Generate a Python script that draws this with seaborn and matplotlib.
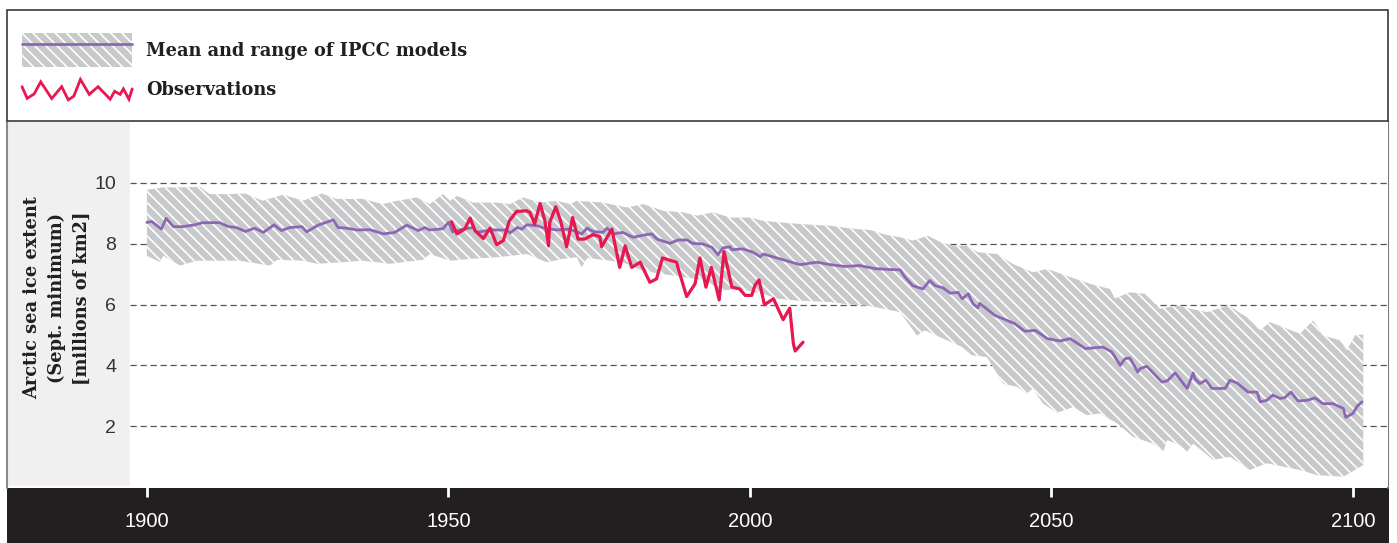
import numpy as np
import matplotlib
matplotlib.use("Agg")
import matplotlib.pyplot as plt
import matplotlib.patches as mpatches
from matplotlib.lines import Line2D
from matplotlib.legend_handler import HandlerBase, HandlerTuple, HandlerLine2D
import seaborn as sns

# ---------------- data ----------------
mean_years = [1900.0, 1900.8, 1902.4, 1903.2, 1904.4, 1906.0, 1907.7, 1909.3, 1912.1, 1913.5,
              1914.9, 1916.3, 1917.9, 1919.3, 1921.1, 1922.3, 1923.7, 1925.7, 1926.5, 1928.4,
              1930.9, 1931.7, 1933.1, 1934.8, 1937.0, 1939.2, 1941.1, 1943.1, 1945.0, 1946.1,
              1946.9, 1949.1, 1950.0, 1950.7, 1952.4, 1954.1, 1954.7, 1956.9, 1959.7, 1960.2,
              1961.4, 1962.2, 1963.0, 1964.7, 1966.0, 1968.0, 1970.1, 1972.1, 1973.0, 1974.0,
              1975.6, 1976.3, 1977.3, 1978.9, 1980.6, 1982.9, 1983.7, 1984.6, 1986.7, 1988.1,
              1989.6, 1990.5, 1992.2, 1993.7, 1994.7, 1995.5, 1996.7, 1997.0, 1998.8, 2000.5,
              2001.7, 2002.2, 2005.0, 2008.3, 2011.1, 2013.3, 2015.8, 2018.2, 2020.7, 2023.2,
              2024.9, 2025.7, 2027.0, 2028.7, 2029.8, 2030.7, 2032.0, 2033.2, 2034.5, 2035.2,
              2036.2, 2037.0, 2037.8, 2038.1, 2040.6, 2042.6, 2043.9, 2045.6, 2047.3, 2049.3,
              2051.4, 2053.1, 2055.6, 2058.5, 2060.0, 2061.4, 2062.2, 2063.0, 2064.3, 2064.7,
              2065.8, 2068.3, 2069.2, 2070.5, 2072.5, 2073.5, 2073.8, 2074.6, 2075.6, 2076.6,
              2078.8, 2079.6, 2080.8, 2082.6, 2084.1, 2084.6, 2085.7, 2086.7, 2087.9, 2088.7,
              2089.7, 2090.9, 2092.4, 2093.7, 2095.0, 2096.7, 2098.4, 2098.8, 2100.0, 2100.7,
              2101.5]
mean_extent = [8.70, 8.73, 8.48, 8.83, 8.56, 8.56, 8.61, 8.69, 8.69, 8.56,
               8.53, 8.40, 8.51, 8.37, 8.62, 8.43, 8.53, 8.56, 8.39, 8.61,
               8.78, 8.53, 8.51, 8.45, 8.46, 8.32, 8.37, 8.61, 8.43, 8.53,
               8.45, 8.49, 8.70, 8.39, 8.48, 8.53, 8.37, 8.45, 8.45, 8.35,
               8.53, 8.48, 8.62, 8.59, 8.50, 8.45, 8.48, 8.32, 8.51, 8.40,
               8.37, 8.51, 8.32, 8.37, 8.21, 8.30, 8.32, 8.15, 8.01, 8.12,
               8.12, 8.01, 7.99, 7.88, 7.64, 7.86, 7.90, 7.80, 7.83, 7.72,
               7.57, 7.66, 7.50, 7.31, 7.39, 7.31, 7.25, 7.28, 7.18, 7.15,
               7.14, 6.90, 6.62, 6.51, 6.79, 6.62, 6.55, 6.37, 6.40, 6.19,
               6.35, 6.02, 5.89, 6.04, 5.64, 5.48, 5.37, 5.12, 5.15, 4.88,
               4.80, 4.88, 4.55, 4.60, 4.44, 4.00, 4.22, 4.24, 3.78, 3.89,
               3.97, 3.45, 3.49, 3.75, 3.24, 3.75, 3.56, 3.40, 3.51, 3.24,
               3.24, 3.51, 3.42, 3.12, 3.12, 2.80, 2.85, 3.02, 2.91, 2.94,
               3.12, 2.83, 2.85, 2.93, 2.74, 2.74, 2.58, 2.29, 2.42, 2.66,
               2.80]

upper_years = [1900.0, 1902.7, 1905.5, 1908.8, 1910.4, 1913.8, 1916.3, 1919.2, 1922.6, 1925.9,
               1929.0, 1931.5, 1935.8, 1939.1, 1941.5, 1944.8, 1946.9, 1949.1, 1950.3, 1951.4,
               1954.1, 1958.0, 1960.2, 1962.4, 1965.2, 1968.0, 1970.2, 1971.3, 1975.6, 1979.6,
               1982.3, 1985.6, 1988.9, 1991.2, 1993.9, 1996.7, 2000.0, 2002.2, 2005.0, 2008.8,
               2013.3, 2016.6, 2019.9, 2022.4, 2024.9, 2027.0, 2029.5, 2032.0, 2034.3, 2036.0,
               2037.8, 2041.0, 2043.6, 2046.9, 2049.3, 2053.1, 2056.4, 2059.7, 2060.5, 2063.0,
               2065.5, 2068.0, 2070.8, 2073.0, 2075.8, 2079.3, 2082.4, 2084.6, 2086.2, 2089.1,
               2091.2, 2093.4, 2095.0, 2097.9, 2099.0, 2100.3, 2101.7]
upper_extent = [9.77, 9.85, 9.85, 9.87, 9.63, 9.63, 9.65, 9.41, 9.61, 9.41,
                9.65, 9.47, 9.47, 9.30, 9.41, 9.52, 9.30, 9.63, 9.41, 9.57,
                9.35, 9.35, 9.30, 9.52, 9.35, 9.41, 9.30, 9.41, 9.35, 9.19,
                9.30, 9.08, 9.03, 8.92, 9.03, 8.86, 8.86, 8.75, 8.70, 8.64,
                8.59, 8.50, 8.45, 8.30, 8.21, 8.10, 8.26, 8.01, 7.93, 7.93,
                7.72, 7.66, 7.33, 7.06, 7.17, 6.90, 6.68, 6.51, 6.20, 6.40,
                6.35, 5.86, 5.97, 5.86, 5.75, 5.97, 5.58, 5.15, 5.42, 5.20,
                5.04, 5.48, 4.98, 4.82, 4.49, 4.98, 5.02]

lower_years = [1900.0, 1902.2, 1902.7, 1905.5, 1908.3, 1911.6, 1915.4, 1920.4, 1921.6, 1925.9,
               1928.2, 1932.5, 1935.8, 1940.3, 1945.8, 1946.9, 1950.3, 1953.6, 1958.0, 1963.0,
               1966.3, 1969.0, 1971.3, 1972.1, 1973.0, 1976.8, 1978.9, 1982.3, 1985.6, 1988.9,
               1992.9, 1995.0, 1998.3, 2002.2, 2004.5, 2007.8, 2013.3, 2016.6, 2019.9, 2022.4,
               2024.9, 2027.7, 2029.0, 2031.5, 2035.2, 2036.8, 2039.3, 2042.0, 2044.3, 2045.9,
               2046.9, 2048.6, 2050.9, 2053.6, 2055.9, 2058.0, 2060.9, 2063.5, 2066.8, 2068.5,
               2069.2, 2071.3, 2072.5, 2073.5, 2076.8, 2079.6, 2082.9, 2085.7, 2088.4, 2091.2,
               2094.0, 2098.4, 2101.7]
lower_extent = [7.60, 7.39, 7.60, 7.28, 7.44, 7.44, 7.44, 7.28, 7.47, 7.44,
                7.34, 7.39, 7.44, 7.34, 7.47, 7.66, 7.44, 7.50, 7.55, 7.66,
                7.39, 7.50, 7.55, 7.22, 7.53, 7.44, 7.39, 7.11, 7.00, 6.90,
                6.79, 6.46, 6.51, 6.35, 6.19, 6.13, 6.08, 6.00, 5.95, 5.85,
                5.75, 4.98, 5.15, 4.93, 4.60, 4.33, 4.27, 3.40, 3.29, 3.07,
                3.24, 2.74, 2.44, 2.63, 2.36, 2.42, 2.09, 1.65, 1.43, 1.16,
                1.54, 1.38, 1.16, 1.43, 0.89, 0.99, 0.56, 0.78, 0.67, 0.56,
                0.39, 0.34, 0.72]

obs_years = [1950.5, 1951.4, 1952.7, 1953.6, 1954.4, 1955.8, 1956.9, 1958.0, 1959.1, 1960.1,
             1961.3, 1963.0, 1963.5, 1964.3, 1965.2, 1966.0, 1966.6, 1966.8, 1967.8, 1968.6,
             1969.6, 1970.6, 1971.5, 1972.6, 1974.0, 1975.1, 1975.4, 1977.1, 1978.4, 1979.3,
             1980.4, 1981.8, 1983.4, 1984.5, 1985.5, 1987.8, 1989.5, 1990.9, 1991.7, 1992.7,
             1993.6, 1994.9, 1995.7, 1997.0, 1998.3, 1999.2, 2000.3, 2000.8, 2001.5, 2002.4,
             2003.9, 2005.5, 2006.6, 2007.2, 2007.5, 2008.8]
obs_extent = [8.72, 8.32, 8.48, 8.84, 8.43, 8.17, 8.51, 7.97, 8.10, 8.75,
              9.06, 9.08, 9.03, 8.65, 9.32, 8.75, 7.93, 8.70, 9.21, 8.75,
              7.90, 8.86, 8.15, 8.15, 8.30, 8.23, 7.90, 8.48, 7.22, 7.93,
              7.22, 7.39, 6.73, 6.84, 7.53, 7.39, 6.26, 6.68, 7.53, 6.57,
              7.22, 6.15, 7.74, 6.57, 6.51, 6.30, 6.30, 6.62, 6.81, 5.99,
              6.19, 5.50, 5.88, 4.71, 4.47, 4.76]

x_ticks = [1900, 1950, 2000, 2050, 2100]
y_ticks = [2, 4, 6, 8, 10]
legend_labels = ["Mean and range of IPCC models", "Observations"]
y_label = "Arctic sea ice extent\n(Sept. minimum)\n[millions of km2]"

# ---------------- style ----------------
PURPLE = "#8c68b4"
RED = "#e8174f"
BAND = "#c8c9cb"
DARK = "#231f20"
HATCH = chr(92) * 3   # dense backslash hatch

sns.set_theme(style="white")
plt.rcParams["font.family"] = ["Liberation Sans", "DejaVu Sans"]
plt.rcParams["hatch.color"] = "white"
plt.rcParams["hatch.linewidth"] = 1.2
plt.rcParams["xtick.bottom"] = True

W, H = 1397, 543
fig = plt.figure(figsize=(W / 100, H / 100), dpi=100)
fig.patch.set_facecolor("white")


def fx(px):
    return px / W


def fy(py):
    return 1 - py / H


# background panels
fig.patches.append(mpatches.Rectangle((fx(7), fy(486)), fx(130) - fx(7), fy(122) - fy(486),
                                      transform=fig.transFigure, facecolor="#f0f0f0",
                                      edgecolor="none", zorder=-2))
fig.patches.append(mpatches.Rectangle((fx(7), 0), fx(1389) - fx(7), fy(488),
                                      transform=fig.transFigure, facecolor=DARK,
                                      edgecolor="none", zorder=-2))
fig.patches.append(mpatches.Rectangle((fx(7), fy(121)), fx(1388) - fx(7), fy(10) - fy(121),
                                      transform=fig.transFigure, facecolor="none",
                                      edgecolor="#3a3a3a", linewidth=1.2, zorder=-1))
fig.lines.append(Line2D([fx(1388), fx(1388)], [fy(121), fy(488)], transform=fig.transFigure,
                        color="#7a7a7a", linewidth=1.5, zorder=-1))
fig.lines.append(Line2D([fx(7), fx(7)], [fy(121), fy(488)], transform=fig.transFigure,
                        color="#8a8a8a", linewidth=1.5, zorder=-1))

# main axes
ax = fig.add_axes([fx(130), fy(487), fx(1388) - fx(130), fy(122) - fy(487)])
ax.set_facecolor("white")

band_x = np.concatenate([upper_years, lower_years[::-1]])
band_y = np.concatenate([upper_extent, lower_extent[::-1]])
ax.fill(band_x, band_y, facecolor=BAND, edgecolor="white", linewidth=0,
        hatch=HATCH, zorder=1)

sns.lineplot(x=mean_years, y=mean_extent, color=PURPLE, linewidth=2.0, ax=ax,
             estimator=None, sort=False, zorder=3)
sns.lineplot(x=obs_years, y=obs_extent, color=RED, linewidth=2.3, ax=ax,
             estimator=None, sort=False, zorder=4)

ax.set_xlim(1897.2, 2105.8)
ax.set_ylim(0, 12.0)
ax.set_xticks(x_ticks)
ax.set_xticklabels([str(t) for t in x_ticks])
ax.set_yticks(y_ticks)
ax.set_yticklabels([str(t) for t in y_ticks])
ax.set_xlabel("")
ax.set_ylabel("")
for s in ax.spines.values():
    s.set_visible(False)
ax.tick_params(axis="x", which="major", bottom=True, direction="out", length=7,
               width=2.0, color="white", labelcolor="white", labelsize=14.5, pad=11)
ax.tick_params(axis="y", which="major", left=False, length=0, labelsize=14,
               labelcolor="#333333", pad=10)
ax.set_axisbelow(True)
ax.yaxis.grid(True, linestyle=(0, (5, 3)), color="#555555", linewidth=0.9)
ax.xaxis.grid(False)

# y label
fig.text(fx(57), fy(298), y_label, rotation=90, ha="center", va="center",
         multialignment="center", fontsize=12.8, fontweight="bold",
         family="DejaVu Serif", color=DARK, linespacing=1.5)


# legend
class HandlerZigzag(HandlerBase):
    xs = [0, 0.047, 0.11, 0.17, 0.27, 0.36, 0.42, 0.47, 0.53, 0.61, 0.69, 0.80, 0.84,
          0.89, 0.92, 0.97, 1.0]
    ys = [0.64, 0.11, 0.31, 0.86, 0.10, 0.64, 0.04, 0.21, 0.97, 0.29, 0.64, 0.07, 0.43,
          0.29, 0.54, 0.07, 0.54]

    def create_artists(self, legend, orig_handle, xdescent, ydescent, width, height,
                       fontsize, trans):
        x = np.array(self.xs) * width - xdescent
        y = (0.18 + 0.64 * np.array(self.ys)) * height - ydescent
        ln = Line2D(x, y, color=orig_handle.get_color(), linewidth=orig_handle.get_linewidth(),
                    solid_joinstyle="miter")
        ln.set_transform(trans)
        return [ln]


band_handle = mpatches.Patch(facecolor=BAND, edgecolor="white", linewidth=0, hatch=HATCH)
mean_handle = Line2D([], [], color=PURPLE, linewidth=2.0)
obs_handle = Line2D([], [], color=RED, linewidth=2.0)
fig.legend(handles=[(band_handle, mean_handle), obs_handle], labels=legend_labels,
           handler_map={tuple: HandlerTuple(ndivide=1, pad=0),
                        Line2D: HandlerLine2D(marker_pad=0),
                        obs_handle: HandlerZigzag()},
           loc="upper left", bbox_to_anchor=(fx(22), fy(33)), frameon=False,
           borderpad=0, borderaxespad=0, handlelength=6.2, handleheight=2.6,
           handletextpad=0.8, labelspacing=0.29,
           prop={"family": "DejaVu Serif", "weight": "bold", "size": 12.8},
           labelcolor=DARK)

fig.savefig("out.png", dpi=100)
